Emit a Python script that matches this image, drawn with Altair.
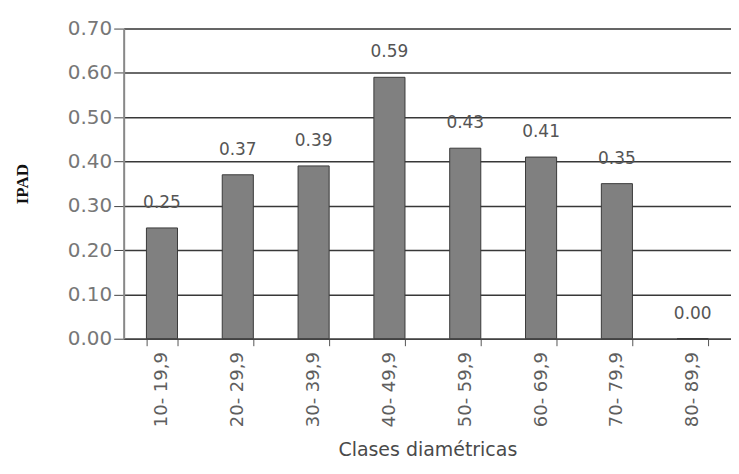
import altair as alt
import pandas as pd

categories = ["10- 19,9", "20- 29,9", "30- 39,9", "40- 49,9",
              "50- 59,9", "60- 69,9", "70- 79,9", "80- 89,9"]
values = [0.25, 0.37, 0.39, 0.59, 0.43, 0.41, 0.35, 0.00]
labels = ["0.25", "0.37", "0.39", "0.59", "0.43", "0.41", "0.35", "0.00"]

df = pd.DataFrame({"clase": categories, "ipad": values, "label": labels})

FONT = "DejaVu Sans"

x = alt.X("clase:N", sort=categories, title="Clases diamétricas",
          scale=alt.Scale(paddingInner=0.59, paddingOuter=0.3),
          axis=alt.Axis(labelAngle=-90, tickBand="extent", labelFont=FONT,
                        labelFontSize=18, labelColor="#5e5e5e", labelPadding=6,
                        titleFont=FONT, titleFontSize=19, titleColor="#4a4a4a",
                        titleFontWeight="normal", titlePadding=14,
                        domainColor="#444444", domainWidth=1.5,
                        tickColor="#555555", tickSize=7, grid=False))

y = alt.Y("ipad:Q", title="IPAD",
          scale=alt.Scale(domain=[0, 0.7]),
          axis=alt.Axis(values=[0, 0.1, 0.2, 0.3, 0.4, 0.5, 0.6, 0.7],
                        format=".2f", labelFont=FONT, labelFontSize=20,
                        labelColor="#777777", labelPadding=2,
                        tickColor="#444444", tickSize=10,
                        domainColor="#888888", domainWidth=2,
                        grid=True, gridColor="#383838", gridWidth=1.5,
                        titleFont="Liberation Serif", titleFontSize=17,
                        titleFontWeight="bold", titleColor="#111111",
                        titlePadding=36))

bars = alt.Chart(df).mark_bar(color="#808080", stroke="#3a3a3a",
                              strokeWidth=1).encode(x=x, y=y)

text = alt.Chart(df).mark_text(font=FONT, fontSize=17, color="#555555",
                               baseline="middle", dy=-25).encode(
    x=alt.X("clase:N", sort=categories),
    y=alt.Y("ipad:Q"),
    text="label:N")

chart = (bars + text).properties(
    width=609, height=311,
    autosize=alt.AutoSizeParams(type="none"),
    padding={"left": 116, "top": 20, "right": 0, "bottom": 126},
).configure_view(stroke=None).configure(background="white")

chart.save("out.html", embed_options={"renderer": "svg", "actions": False})
